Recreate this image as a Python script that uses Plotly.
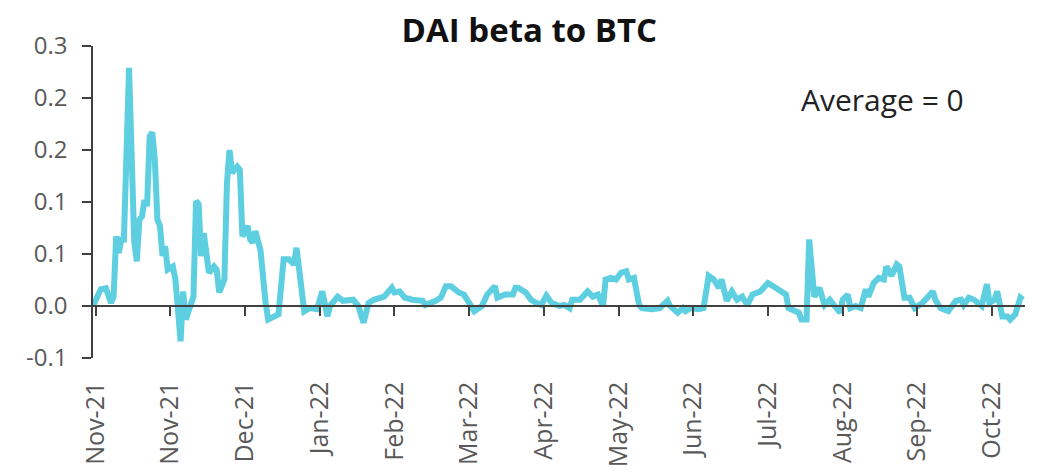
import datetime as dt
import plotly.graph_objects as go

# ---- data ----
START = dt.date(2021, 11, 1)
DAY_OFFSETS = [
    -1, 2, 4, 6, 7, 8, 9, 10, 11, 13, 15, 16, 17, 18, 19, 20, 21, 22, 23, 24,
    25, 26, 27, 28, 30, 31, 33, 34, 35, 37, 38, 39, 40, 41, 42, 44, 46, 47, 48, 50,
    51, 52, 53, 55, 56, 57, 59, 60, 61, 62, 64, 66, 67, 71, 73, 75, 77, 78, 79, 81,
    83, 86, 88, 90, 91, 94, 96, 100, 102, 104, 106, 108, 112, 115, 116, 118, 120, 123, 127, 128,
    132, 134, 136, 138, 141, 143, 145, 147, 150, 152, 155, 156, 159, 162, 163, 164, 167, 169, 171, 173,
    175, 177, 180, 182, 184, 185, 188, 191, 193, 195, 197, 198, 200, 202, 204, 206, 207, 209, 211, 212,
    216, 219, 222, 223, 226, 228, 229, 231, 234, 236, 238, 240, 242, 243, 245, 247, 249, 251, 253, 255,
    258, 261, 264, 266, 268, 269, 271, 273, 274, 276, 277, 279, 281, 283, 285, 287, 289, 290, 292, 293,
    295, 297, 299, 300, 302, 304, 306, 307, 309, 311, 312, 314, 316, 318, 321, 325, 326, 328, 331, 334,
    336, 337, 339, 341, 343, 344, 346, 347, 349, 350, 352, 354, 355, 357, 359, 360,
]
BETA = [
    0.000, 0.016, 0.017, 0.003, 0.009, 0.067, 0.051, 0.064, 0.064, 0.229, 0.062, 0.043, 0.083, 0.086, 0.102, 0.096, 0.163, 0.167, 0.141, 0.083,
    0.077, 0.048, 0.0575, 0.035, 0.038, 0.0255, -0.034, 0.014, -0.013, 0.000, 0.009, 0.101, 0.098, 0.048, 0.070, 0.032, 0.038, 0.035, 0.013, 0.0255,
    0.118, 0.150, 0.128, 0.134, 0.131, 0.067, 0.077, 0.064, 0.061, 0.072, 0.054, 0.003, -0.013, -0.008, 0.045, 0.045, 0.040, 0.056, 0.038, -0.005,
    -0.002, -0.003, 0.014, -0.010, 0.000, 0.009, 0.005, 0.006, 0.000, -0.016, 0.003, 0.006, 0.009, 0.0175, 0.013, 0.014, 0.008, 0.006, 0.005, 0.001,
    0.005, 0.008, 0.019, 0.019, 0.013, 0.011, 0.003, -0.005, 0.000, 0.011, 0.019, 0.008, 0.011, 0.011, 0.0175, 0.0175, 0.013, 0.006, 0.003, 0.001,
    0.010, 0.003, 0.000, 0.001, -0.002, 0.006, 0.006, 0.014, 0.009, 0.011, 0.000, 0.0255, 0.027, 0.0255, 0.032, 0.0335, 0.0255, 0.027, 0.001, -0.002,
    -0.003, -0.002, 0.005, 0.000, -0.0065, -0.002, -0.005, -0.002, -0.003, -0.002, 0.029, 0.0255, 0.0175, 0.0255, 0.005, 0.014, 0.006, 0.009, 0.001, 0.011,
    0.014, 0.022, 0.0175, 0.014, 0.011, -0.002, -0.005, -0.0065, -0.013, -0.013, 0.064, 0.009, 0.0175, 0.001, 0.006, 0.000, -0.0065, 0.006, 0.011, -0.002,
    0.000, -0.002, 0.016, 0.009, 0.022, 0.027, 0.0255, 0.038, 0.029, 0.040, 0.038, 0.008, 0.008, -0.002, 0.003, 0.014, 0.006, -0.002, -0.005, 0.005,
    0.006, 0.001, 0.008, 0.006, 0.001, 0.000, 0.021, 0.003, 0.006, 0.014, -0.010, -0.010, -0.013, -0.008, 0.008, 0.006,
]
TICK_DATES = ["2021-11-01", "2021-11-30", "2021-12-29", "2022-01-27", "2022-02-25", "2022-03-26",
              "2022-04-24", "2022-05-23", "2022-06-21", "2022-07-20", "2022-08-18", "2022-09-16", "2022-10-15"]
TICK_LABELS = ["Nov-21", "Nov-21", "Dec-21", "Jan-22", "Feb-22", "Mar-22", "Apr-22",
               "May-22", "Jun-22", "Jul-22", "Aug-22", "Sep-22", "Oct-22"]
Y_TICKS = [-0.05, 0.0, 0.05, 0.10, 0.15, 0.20, 0.25]
Y_TICK_LABELS = ["-0.1", "0.0", "0.1", "0.1", "0.2", "0.2", "0.3"]
TITLE = "DAI beta to BTC"
NOTE = "Average = 0"

dates = [START + dt.timedelta(days=d) for d in DAY_OFFSETS]
X_RANGE = ["2021-10-31", "2022-10-27 19:00"]
Y_RANGE = [-0.05, 0.25]

LINE_COLOR = "#5DCFE0"
AXIS_COLOR = "#404040"
TEXT_COLOR = "#595959"

fig = go.Figure()
fig.add_trace(go.Scatter(x=dates, y=BETA, mode="lines",
                         line=dict(color=LINE_COLOR, width=6), hoverinfo="skip"))

zero_pos = (0 - Y_RANGE[0]) / (Y_RANGE[1] - Y_RANGE[0])

fig.update_layout(
    width=1038, height=476,
    margin=dict(l=93, r=13, t=46, b=118, autoexpand=False),
    paper_bgcolor="white", plot_bgcolor="white",
    showlegend=False,
    font=dict(family="Open Sans", color=TEXT_COLOR),
    title=dict(text="<b>" + TITLE + "</b>", x=0.51, xanchor="center", y=0.935, yanchor="middle",
               font=dict(family="Open Sans", size=33, color="#111111")),
    xaxis=dict(
        type="date", range=X_RANGE, anchor="free", position=zero_pos,
        tickvals=TICK_DATES, ticktext=TICK_LABELS, tickangle=-90,
        showline=True, linecolor=AXIS_COLOR, linewidth=1.5,
        ticks="outside", ticklen=9, tickwidth=1.5, tickcolor=AXIS_COLOR,
        showgrid=False, zeroline=False,
        tickfont=dict(family="Open Sans", size=25, color=TEXT_COLOR),
        ticklabelstandoff=56, automargin=False,
    ),
    yaxis=dict(
        range=Y_RANGE, tickvals=Y_TICKS, ticktext=Y_TICK_LABELS,
        showline=True, linecolor=AXIS_COLOR, linewidth=1.5,
        ticks="outside", ticklen=9, tickwidth=1.5, tickcolor=AXIS_COLOR,
        showgrid=False, zeroline=False,
        tickfont=dict(family="Open Sans", size=24, color=TEXT_COLOR),
        ticklabelstandoff=10, automargin=False,
    ),
    annotations=[dict(text=NOTE, xref="paper", yref="paper", x=0.847, y=0.83,
                      xanchor="center", yanchor="middle", showarrow=False,
                      font=dict(family="Open Sans", size=30, color="#222222"))],
)

fig.write_html("out.html", config={"displayModeBar": False},
               post_script="document.body.style.margin='0';")
